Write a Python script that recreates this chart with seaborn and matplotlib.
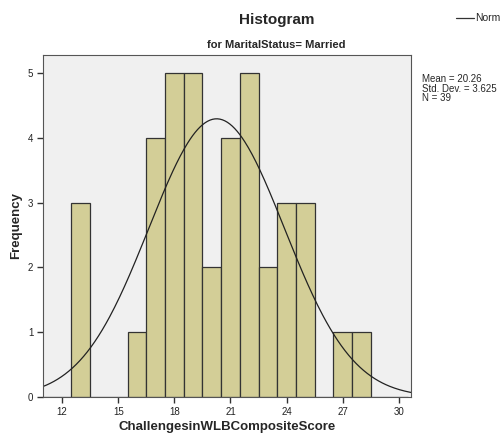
import numpy as np
import pandas as pd
import seaborn as sns
import matplotlib.pyplot as plt
from matplotlib.lines import Line2D

# scores (bin centres) and their frequencies
scores = [13, 16, 17, 18, 19, 20, 21, 22, 23, 24, 25, 27, 28]
counts = [3, 1, 4, 5, 5, 2, 4, 5, 2, 3, 3, 1, 1]
x_ticks = [12, 15, 18, 21, 24, 27, 30]
y_ticks = [0, 1, 2, 3, 4, 5]

mean, sd, n = 20.26, 3.625, 39

df = pd.DataFrame({"score": np.repeat(scores, counts)})

sns.set_style("ticks")
plt.rcParams["font.family"] = ["Liberation Sans", "DejaVu Sans"]
plt.rcParams["xtick.major.size"] = 4
plt.rcParams["ytick.major.size"] = 4

fig = plt.figure(figsize=(5, 4.36), dpi=100)
ax = fig.add_axes([0.086, 0.0894, 0.736, 0.785])
ax.set_facecolor("#F0F0F0")

sns.histplot(data=df, x="score", bins=np.arange(10.5, 31.5, 1), ax=ax,
             color="#D3CE97", edgecolor="#333333", linewidth=0.9, alpha=1)

# fitted normal curve
xs = np.linspace(10.9, 30.7, 300)
ys = n * 1.0 / (sd * np.sqrt(2 * np.pi)) * np.exp(-0.5 * ((xs - mean) / sd) ** 2)
sns.lineplot(x=xs, y=ys, ax=ax, color="#222222", linewidth=0.9)

ax.set_xlim(10.98, 30.65)
ax.set_ylim(0, 5.28)
ax.set_xticks(x_ticks)
ax.set_yticks(y_ticks)
ax.tick_params(axis="both", which="major", labelsize=7, length=4, width=1,
               color="#333333", labelcolor="#222222", direction="out",
               bottom=True, left=True, pad=3)
for s in ax.spines.values():
    s.set_color("#555555")
    s.set_linewidth(0.8)

ax.set_xlabel("ChallengesinWLBCompositeScore", fontsize=9.5, fontweight="bold", labelpad=3)
ax.set_ylabel("Frequency", fontsize=9.5, fontweight="bold", labelpad=4)

fig.text(0.553, 0.953, "Histogram", ha="center", va="center", fontsize=11, fontweight="bold")
fig.text(0.553, 0.896, "for MaritalStatus= Married", ha="center", va="center",
         fontsize=8, fontweight="bold")

fig.text(0.844, 0.83, "Mean = 20.26\nStd. Dev. = 3.625\nN = 39", ha="left", va="top",
         fontsize=7, linespacing=0.95)

fig.lines.append(Line2D([0.912, 0.948], [0.958, 0.958], transform=fig.transFigure,
                        color="#333333", linewidth=0.9))
fig.text(0.95, 0.958, "Normal", ha="left", va="center", fontsize=7.5)

fig.savefig("out.png", dpi=100)
